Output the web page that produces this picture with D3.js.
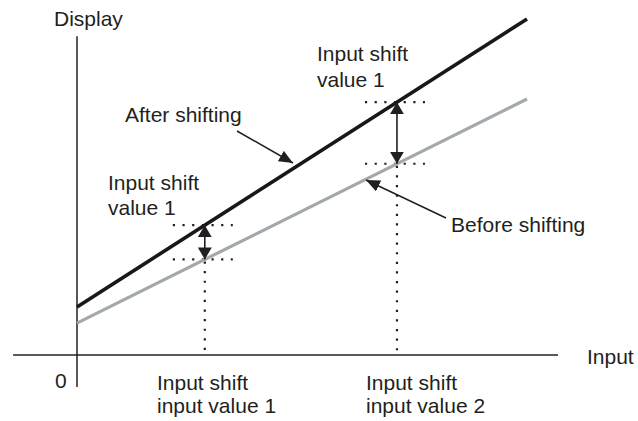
<!DOCTYPE html>
<html>
<head>
<meta charset="utf-8">
<script src="https://cdn.jsdelivr.net/npm/d3@7"></script>
<style>
  body { margin: 0; background: #fff; }
  text { font-family: "Liberation Sans", Arial, sans-serif; font-size: 21px; fill: #231f20; }
</style>
</head>
<body>
<div id="chart"></div>
<script>
// line end points in data units: [input, display]
var afterShifting = [[0, 1.43], [10, 10]];
var beforeShifting = [[0, 0.95], [10, 7.62]];
// the two input values where the shift is shown
var inputValues = [2.84, 7.11];
var inputLabels = [["Input shift", "input value 1"], ["Input shift", "input value 2"]];
var shiftLabels = [["Input shift", "value 1"], ["Input shift", "value 1"]];

var width = 638, height = 421;
var svg = d3.select("#chart").append("svg")
    .attr("width", width)
    .attr("height", height);

var x = d3.scaleLinear().domain([0, 10]).range([77, 527]);
var y = d3.scaleLinear().domain([0, 10]).range([355, 19]);

// arrow heads
var defs = svg.append("defs");
defs.append("marker")
    .attr("id", "head")
    .attr("viewBox", "0 0 12 14")
    .attr("refX", 12).attr("refY", 7)
    .attr("markerUnits", "userSpaceOnUse")
    .attr("markerWidth", 12).attr("markerHeight", 14)
    .attr("orient", "auto-start-reverse")
  .append("path")
    .attr("d", "M0,0 L12,7 L0,14 Z")
    .attr("fill", "#231f20");
defs.append("marker")
    .attr("id", "pointer")
    .attr("viewBox", "0 0 14 12")
    .attr("refX", 14).attr("refY", 6)
    .attr("markerUnits", "userSpaceOnUse")
    .attr("markerWidth", 14).attr("markerHeight", 12)
    .attr("orient", "auto")
  .append("path")
    .attr("d", "M0,0 L14,6 L0,12 Z")
    .attr("fill", "#231f20");

// axes
svg.append("line")
    .attr("x1", x(-1.42)).attr("x2", x(10.69))
    .attr("y1", y(0)).attr("y2", y(0))
    .style("stroke", "#231f20").style("stroke-width", 1.5);
svg.append("line")
    .attr("x1", x(0)).attr("x2", x(0))
    .attr("y1", y(-0.95)).attr("y2", y(9.49))
    .style("stroke", "#231f20").style("stroke-width", 1.5);

function valueAt(pts, v) {
  var t = (v - pts[0][0]) / (pts[1][0] - pts[0][0]);
  return pts[0][1] + t * (pts[1][1] - pts[0][1]);
}

var line = d3.line().x(d => x(d[0])).y(d => y(d[1]));

// dotted guides
inputValues.forEach(function (v) {
  var ya = valueAt(afterShifting, v), yb = valueAt(beforeShifting, v);
  [ya, yb].forEach(function (yy) {
    svg.append("line")
      .attr("x1", x(v) - 32).attr("x2", x(v) + 28)
      .attr("y1", y(yy)).attr("y2", y(yy))
      .style("stroke", "#231f20").style("stroke-width", 2.2)
      .style("stroke-dasharray", "2.2 7.47");
  });
  svg.append("line")
    .attr("x1", x(v)).attr("x2", x(v))
    .attr("y1", y(yb) + 2).attr("y2", y(0))
    .style("stroke", "#231f20").style("stroke-width", 2.2)
    .style("stroke-dasharray", "2.2 7.4");
});

svg.append("path").datum(beforeShifting)
    .attr("d", line)
    .style("fill", "none").style("stroke", "#a2a8ac").style("stroke-width", 3.2);
svg.append("path").datum(afterShifting)
    .attr("d", line)
    .style("fill", "none").style("stroke", "#1a1718").style("stroke-width", 3.6);

// double arrows showing the shift
inputValues.forEach(function (v) {
  svg.append("line")
    .attr("x1", x(v)).attr("x2", x(v))
    .attr("y1", y(valueAt(afterShifting, v)))
    .attr("y2", y(valueAt(beforeShifting, v)))
    .style("stroke", "#231f20").style("stroke-width", 1.6)
    .attr("marker-start", "url(#head)")
    .attr("marker-end", "url(#head)");
});

// pointer arrows
svg.append("line")
    .attr("x1", 237).attr("y1", 131)
    .attr("x2", 293).attr("y2", 163)
    .style("stroke", "#231f20").style("stroke-width", 1.5)
    .attr("marker-end", "url(#pointer)");
svg.append("line")
    .attr("x1", 446).attr("y1", 218)
    .attr("x2", 366).attr("y2", 180)
    .style("stroke", "#231f20").style("stroke-width", 1.5)
    .attr("marker-end", "url(#pointer)");

// texts
function label(lines, px, py, gap) {
  var t = svg.append("text").attr("x", px).attr("y", py);
  lines.forEach(function (s, i) {
    t.append("tspan").attr("x", px).attr("dy", i ? gap : 0).text(s);
  });
}
label(["Display"], 54, 26);
label(["Input"], 587, 364);
label(["0"], 55, 388);
label(["After shifting"], 125, 122);
label(["Before shifting"], 451, 232);
label(shiftLabels[0], 108, 190, 25);
label(shiftLabels[1], 317, 61, 26);
label(inputLabels[0], 157, 390, 23);
label(inputLabels[1], 366, 390, 23);
</script>
</body>
</html>
